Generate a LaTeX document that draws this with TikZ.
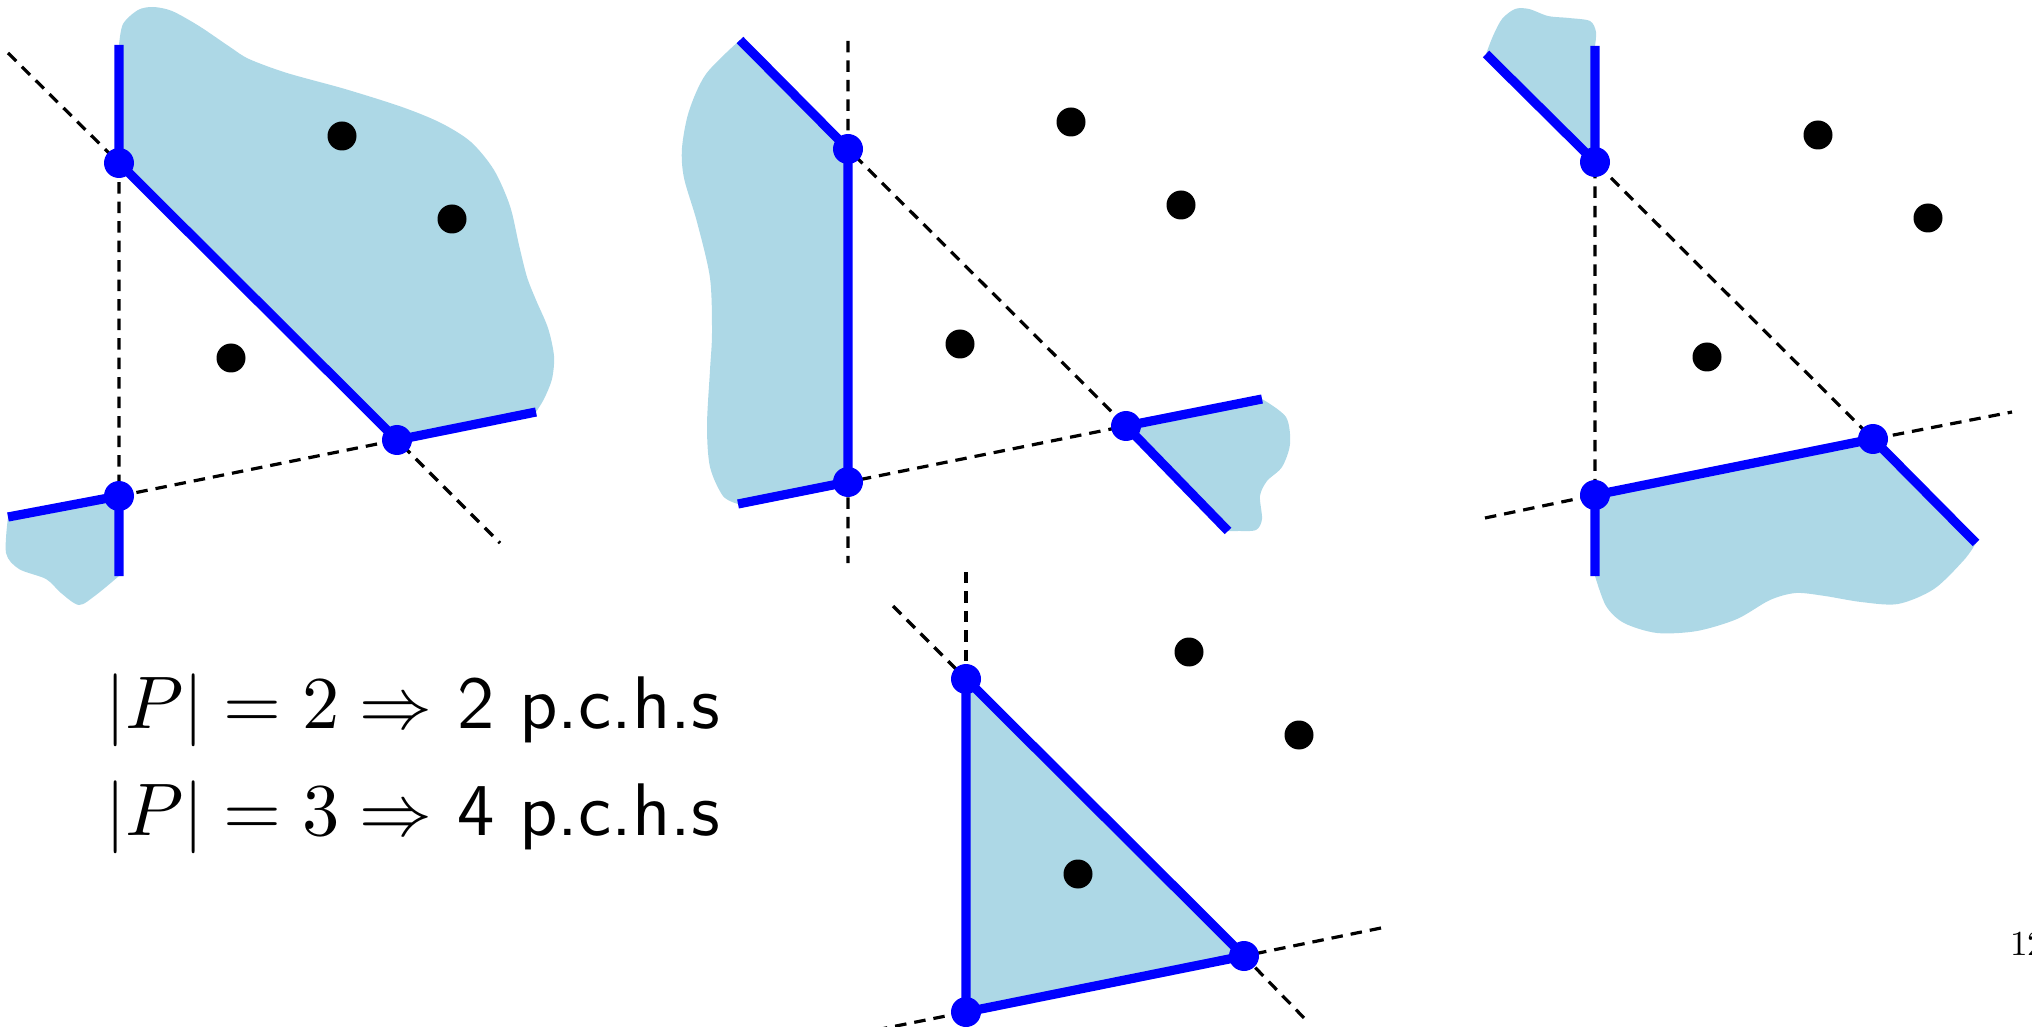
\documentclass[tikz,border=0pt]{standalone}
\usepackage{amsmath,amssymb}
\usepackage[no-math]{fontspec}
\usepackage{tikz}
\newfontfamily\slidesans{lmsans10-regular.otf}
\DeclareFontShape{OT1}{cmr}{m}{n}{<->cmr10}{}
\DeclareFontShape{OML}{cmm}{m}{it}{<->cmmi10}{}
\definecolor{lightblue}{RGB}{173,216,230}

\begin{document}
\begin{tikzpicture}[x=0.1mm, y=-0.1mm, semithick,
  hull/.style={blue, line width=0.92mm},
  ray/.style={black, line width=0.32mm, dash pattern=on 1.15mm off 0.8mm},
  corner/.style={circle, fill=blue, inner sep=0pt, minimum size=3mm},
  site/.style={circle, fill=black, inner sep=0pt, minimum size=2.9mm},
  says/.style={anchor=base west, inner sep=0pt, font=\fontsize{21.2}{25}\selectfont\slidesans}]
%
\useasboundingbox (0,0) rectangle (2032,1027);
%
% first hull
\begin{scope}[shift={(119,163)}]
\coordinate (p1a) at (0,0);
\coordinate (p1b) at (0,333);
\coordinate (p1c) at (278,277);
\coordinate (p1up) at (0,-118);
\coordinate (p1dn) at (0,413);
\coordinate (p1ul) at (-111,-110);
\coordinate (p1lr) at (381,380);
\coordinate (p1lt) at (-111,354);
\coordinate (p1rt) at (417,249);
\fill[lightblue] (p1up) -- (p1a) -- (p1c) -- (p1rt) -- plot[smooth] coordinates {(417,249) (425,236) (433,216) (435,193) (429,165) (417,137) (408,114) (400,82) (391,43) (375,7) (352,-21) (322,-40) (283,-56) (226,-74) (168,-90) (130,-104) (111,-116) (80,-137) (53,-152) (34,-156) (19,-153) (4,-139) (0,-118)} -- cycle;
\fill[lightblue] (p1b) -- (p1lt) -- plot[smooth] coordinates {(-111,354) (-113,390) (-100,406) (-73,416) (-58,430) (-40,442) (-23,432) (0,413)} -- cycle;
\draw[ray] (p1ul) -- (p1a) -- (p1b) -- (p1c) -- (p1lr);
\draw[hull] (p1up) -- (p1a) -- (p1c) -- (p1rt);
\draw[hull] (p1lt) -- (p1b) -- (p1dn);
\foreach \v in {a,b,c} \node[corner] (p1v\v) at (p1\v) {};
\foreach \s/\x/\y in {1/223/-27, 2/333/56, 3/112/195} \node[site] (p1s\s) at (\x,\y) {};
\end{scope}
%
% second hull
\begin{scope}[shift={(848,149)}]
\coordinate (p2a) at (0,0);
\coordinate (p2b) at (0,333);
\coordinate (p2c) at (278,277);
\coordinate (p2up) at (0,-108);
\coordinate (p2dn) at (0,414);
\coordinate (p2ul) at (-108,-109);
\coordinate (p2lr) at (380,382);
\coordinate (p2lt) at (-110,355);
\coordinate (p2rt) at (414,250);
\fill[lightblue] (p2ul) -- (p2a) -- (p2b) -- (p2lt) -- plot[smooth] coordinates {(-110,355) (-125,347) (-138,318) (-141,277) (-138,221) (-136,184) (-138,129) (-151,73) (-164,29) (-166,-1) (-159,-38) (-142,-75) (-108,-109)} -- cycle;
\fill[lightblue] (p2c) -- (p2rt) -- plot[smooth] coordinates {(414,250) (438,268) (442,295) (434,318) (419,332) (412,347) (414,370) (408,381) (390,382) (380,382)} -- cycle;
\draw[ray] (p2up) -- (p2a) -- (p2c) -- (p2b) -- (p2dn);
\draw[hull] (p2ul) -- (p2a) -- (p2b) -- (p2lt);
\draw[hull] (p2rt) -- (p2c) -- (p2lr);
\foreach \v in {a,b,c} \node[corner] (p2v\v) at (p2\v) {};
\foreach \s/\x/\y in {1/223/-27, 2/333/56, 3/112/195} \node[site] (p2s\s) at (\x,\y) {};
\end{scope}
%
% third hull
\begin{scope}[shift={(1595,162)}]
\coordinate (p3a) at (0,0);
\coordinate (p3b) at (0,333);
\coordinate (p3c) at (278,277);
\coordinate (p3up) at (0,-116);
\coordinate (p3dn) at (0,414);
\coordinate (p3ul) at (-109,-108);
\coordinate (p3lr) at (381,381);
\coordinate (p3lt) at (-110,356);
\coordinate (p3rt) at (417,250);
\fill[lightblue] (p3ul) -- (p3a) -- (p3up) -- plot[smooth] coordinates {(0,-116) (1,-130) (-5,-141) (-26,-144) (-47,-146) (-66,-153) (-80,-153) (-93,-143) (-102,-126) (-109,-108)} -- cycle;
\fill[lightblue] (p3b) -- (p3c) -- (p3lr) -- plot[smooth] coordinates {(381,381) (369,398) (339,427) (303,442) (266,440) (230,434) (201,431) (175,438) (142,457) (102,469) (62,471) (29,461) (11,444) (0,414)} -- cycle;
\draw[ray] (p3lt) -- (p3b) -- (p3a) -- (p3c) -- (p3rt);
\draw[hull] (p3ul) -- (p3a) -- (p3up);
\draw[hull] (p3dn) -- (p3b) -- (p3c) -- (p3lr);
\foreach \v in {a,b,c} \node[corner] (p3v\v) at (p3\v) {};
\foreach \s/\x/\y in {1/223/-27, 2/333/56, 3/112/195} \node[site] (p3s\s) at (\x,\y) {};
\end{scope}
%
% fourth hull
\begin{scope}[shift={(966,679)}]
\coordinate (p4a) at (0,0);
\coordinate (p4b) at (0,333);
\coordinate (p4c) at (278,277);
\coordinate (p4up) at (0,-107);
\coordinate (p4ul) at (-73,-73);
\coordinate (p4lr) at (340,341);
\coordinate (p4lt) at (-90,351);
\coordinate (p4rt) at (415,249);
\fill[lightblue] (p4a) -- (p4b) -- (p4c) -- cycle;
\draw[ray] (p4up) -- (p4a);
\draw[ray] (p4ul) -- (p4a);
\draw[ray] (p4lt) -- (p4b);
\draw[ray] (p4rt) -- (p4c) -- (p4lr);
\draw[hull] (p4a) -- (p4b) -- (p4c) -- cycle;
\foreach \v in {a,b,c} \node[corner] (p4v\v) at (p4\v) {};
\foreach \s/\x/\y in {1/223/-27, 2/333/56, 3/112/195} \node[site] (p4s\s) at (\x,\y) {};
\end{scope}
%
\node[says] (pchs2) at (104,728) {$|P| = 2 \Rightarrow$ 2 p.c.h.s};
\node[says] (pchs3) at (104,835) {$|P| = 3 \Rightarrow$ 4 p.c.h.s};
\node[anchor=base west, inner sep=0pt, font=\fontsize{10}{12}\selectfont] (pageno) at (2009,955) {12};
\end{tikzpicture}
\end{document}
